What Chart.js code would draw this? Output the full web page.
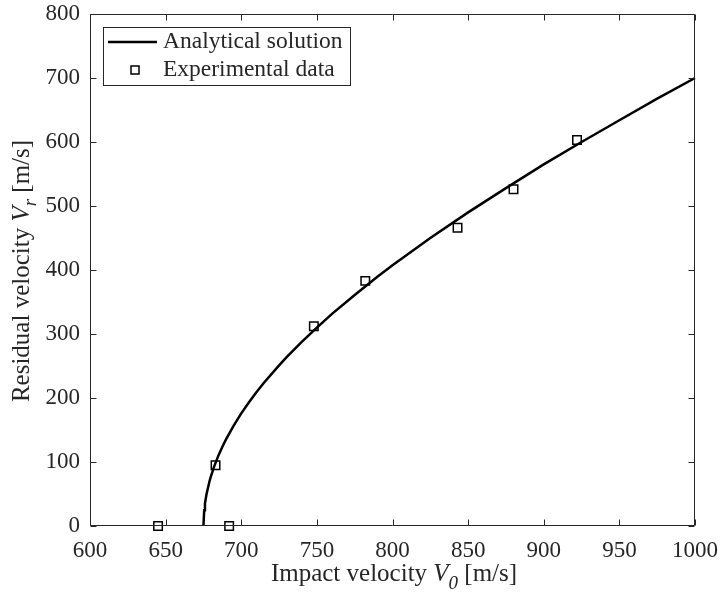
<!DOCTYPE html>
<html>
<head>
<meta charset="utf-8">
<script src="https://cdn.jsdelivr.net/npm/chart.js@4/dist/chart.umd.min.js"></script>
<style>
html,body{margin:0;padding:0;background:#fff;}
#wrap{width:720px;height:599px;position:relative;}
</style>
</head>
<body>
<div id="wrap"><canvas id="c" width="720" height="599"></canvas></div>
<script>
// Analytical solution curve
const curveV0 = [675, 675.5, 676, 677, 679, 680, 682, 685, 688, 690, 695, 700, 705, 710, 715, 725, 730, 740, 750, 760, 775, 790, 800, 825, 850, 875, 900, 925, 950, 975, 1000];
const curveVr = [0, 24.7, 34.9, 49.3, 69.8, 78.1, 92.5, 110.7, 126.3, 135.8, 157, 176, 193, 209, 223.8, 251, 263.8, 287.8, 310, 331.4, 361, 389.5, 407.5, 450, 490, 528, 565, 600, 634, 667.7, 700];
// Experimental data
const expV0 = [645, 683, 692, 748, 782, 843, 880, 922];
const expVr = [0, 95, 0, 312, 383, 466, 526, 603];
// Axis ticks
const xTicks = [600, 650, 700, 750, 800, 850, 900, 950, 1000];
const yTicks = [0, 100, 200, 300, 400, 500, 600, 700, 800];
const seriesLabels = ['Analytical solution', 'Experimental data'];

const FONT = '"Liberation Serif", "Times New Roman", serif';
const AX = '#262626';

const boxPlugin = {
  id: 'boxPlugin',
  afterDatasetsDraw(chart) {
    const ctx = chart.ctx;
    const a = chart.chartArea;
    const xs = chart.scales.x, ys = chart.scales.y;
    ctx.save();
    ctx.strokeStyle = AX;
    ctx.lineWidth = 1;
    const L = Math.round(a.left) + 0.5, R = Math.round(a.right) - 0.5;
    const T = Math.round(a.top) + 0.5, B = Math.round(a.bottom) - 0.5;
    ctx.beginPath();
    ctx.rect(L, T, R - L, B - T);
    const tl = 6;
    xTicks.forEach(v => {
      const px = Math.round(xs.getPixelForValue(v)) + 0.5;
      ctx.moveTo(px, B); ctx.lineTo(px, B - tl);
      ctx.moveTo(px, T); ctx.lineTo(px, T + tl);
    });
    yTicks.forEach(v => {
      const py = Math.round(ys.getPixelForValue(v)) + 0.5;
      ctx.moveTo(L, py); ctx.lineTo(L + tl, py);
      ctx.moveTo(R, py); ctx.lineTo(R - tl, py);
    });
    ctx.stroke();

    // Legend
    const lx = 103.5, ly = 27.5, lw = 247, lh = 58;
    ctx.fillStyle = '#fff';
    ctx.fillRect(lx, ly, lw, lh);
    ctx.strokeStyle = AX;
    ctx.lineWidth = 1;
    ctx.strokeRect(lx, ly, lw, lh);
    ctx.strokeStyle = '#000';
    ctx.lineWidth = 2.5;
    ctx.beginPath();
    ctx.moveTo(108, 42); ctx.lineTo(157, 42);
    ctx.stroke();
    ctx.lineWidth = 1.5;
    ctx.strokeRect(131, 66, 8, 8);
    ctx.fillStyle = AX;
    ctx.font = '23.5px ' + FONT;
    ctx.textBaseline = 'middle';
    ctx.textAlign = 'left';
    ctx.fillText(chart.data.datasets[0].label, 163, 42);
    ctx.fillText(chart.data.datasets[1].label, 163, 70);

    // Axis titles with italic subscripts
    function measureParts(parts) {
      let w = 0;
      parts.forEach(p => { ctx.font = p.f; w += ctx.measureText(p.t).width; });
      return w;
    }
    const big = '25px ' + FONT, bigI = 'italic 25px ' + FONT, subI = 'italic 19px ' + FONT;
    const xParts = [
      {t: 'Impact velocity ', f: big, dy: 0},
      {t: 'V', f: bigI, dy: 0},
      {t: '0', f: subI, dy: 8},
      {t: ' [m/s]', f: big, dy: 0}
    ];
    ctx.textBaseline = 'alphabetic';
    let w = measureParts(xParts);
    let x0 = 394 - w / 2;
    const by = 581;
    xParts.forEach(p => {
      ctx.font = p.f;
      ctx.fillText(p.t, x0, by + p.dy);
      x0 += ctx.measureText(p.t).width;
    });
    const yParts = [
      {t: 'Residual velocity ', f: big, dy: 0},
      {t: 'V', f: bigI, dy: 0},
      {t: 'r', f: subI, dy: 7},
      {t: ' [m/s]', f: big, dy: 0}
    ];
    w = measureParts(yParts);
    ctx.save();
    ctx.translate(29, 271);
    ctx.rotate(-Math.PI / 2);
    let y0 = -w / 2;
    yParts.forEach(p => {
      ctx.font = p.f;
      ctx.fillText(p.t, y0, p.dy);
      y0 += ctx.measureText(p.t).width;
    });
    ctx.restore();
    ctx.restore();
  }
};

const curveData = curveV0.map((v, i) => ({x: v, y: curveVr[i]}));
const expData = expV0.map((v, i) => ({x: v, y: expVr[i]}));

new Chart(document.getElementById('c'), {
  type: 'scatter',
  data: {
    datasets: [
      {
        label: seriesLabels[0],
        data: curveData,
        showLine: true,
        borderColor: '#000',
        borderWidth: 2.5,
        pointRadius: 0,
        tension: 0,
        clip: false
      },
      {
        label: seriesLabels[1],
        data: expData,
        showLine: false,
        pointStyle: 'rect',
        pointRadius: 6,
        pointBorderWidth: 1.5,
        pointBorderColor: '#000',
        pointBackgroundColor: 'rgba(0,0,0,0)',
        clip: false
      }
    ]
  },
  options: {
    responsive: false,
    animation: false,
    devicePixelRatio: 1,
    layout: {padding: {top: 14, right: 25, left: 0, bottom: 0}},
    plugins: {legend: {display: false}, tooltip: {enabled: false}},
    scales: {
      x: {
        type: 'linear', min: 600, max: 1000,
        afterBuildTicks: s => { s.ticks = xTicks.map(v => ({value: v})); },
        afterFit: s => { s.height = 73; s.paddingLeft = 0; s.paddingRight = 0; },
        grid: {display: false, drawTicks: false},
        border: {display: false},
        ticks: {color: AX, font: {family: FONT, size: 23}, padding: 11, maxRotation: 0, autoSkip: false,
                callback: v => String(v)}
      },
      y: {
        type: 'linear', min: 0, max: 800,
        afterBuildTicks: s => { s.ticks = yTicks.map(v => ({value: v})); },
        afterFit: s => { s.width = 90; s.paddingTop = 0; s.paddingBottom = 0; },
        grid: {display: false, drawTicks: false},
        border: {display: false},
        ticks: {color: AX, font: {family: FONT, size: 23}, padding: 10, autoSkip: false,
                callback: v => String(v)}
      }
    }
  },
  plugins: [boxPlugin]
});
</script>
</body>
</html>
